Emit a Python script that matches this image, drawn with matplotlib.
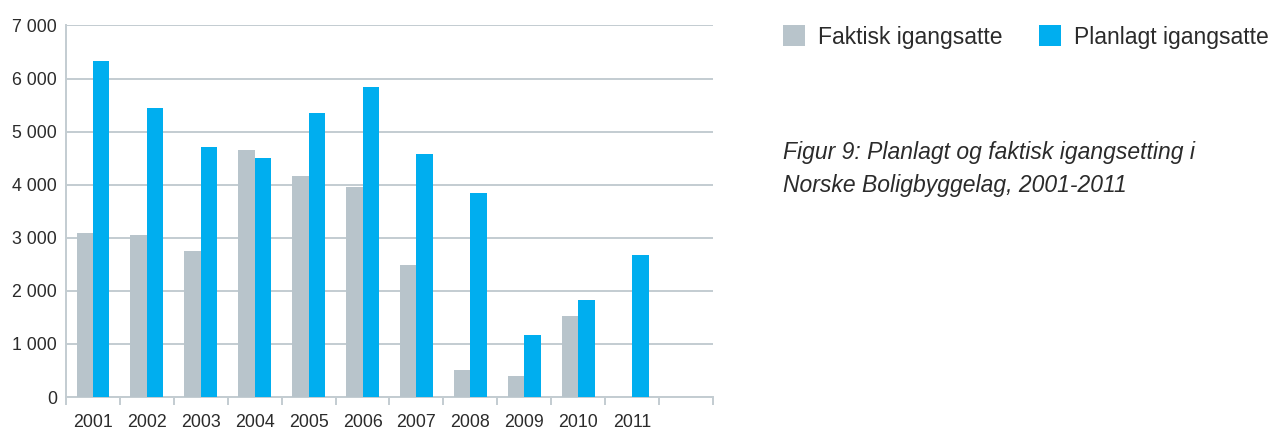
import numpy as np
import matplotlib.pyplot as plt
from matplotlib.patches import Patch
from matplotlib.ticker import FixedLocator, FuncFormatter

plt.rcParams['font.family'] = ['Liberation Sans', 'DejaVu Sans']

# verdier lest av figuren
years = ['2001', '2002', '2003', '2004', '2005', '2006', '2007', '2008', '2009', '2010', '2011']
faktisk = [3095, 3055, 2755, 4660, 4170, 3960, 2490, 515, 400, 1530, 0]
planlagt = [6335, 5450, 4715, 4505, 5355, 5845, 4585, 3850, 1175, 1835, 2680]

grey = '#b8c4cb'
blue = '#00aeef'
line_col = '#c3ccd1'
text_col = '#2b2b2b'

fig = plt.figure(figsize=(12.76, 4.30), dpi=100)
ax = fig.add_axes([66 / 1276, 33 / 430, 647 / 1276, 371.5 / 430])

x = np.arange(len(years))
w = 0.305
ax.bar(x - w / 2, faktisk, width=w, color=grey, zorder=3)
ax.bar(x + w / 2, planlagt, width=w, color=blue, zorder=3)

ax.set_xlim(-0.5, 11.5)
ax.set_ylim(0, 7000)

ax.set_yticks(np.arange(0, 7001, 1000))
ax.yaxis.set_major_formatter(FuncFormatter(lambda v, p: '{:,}'.format(int(v)).replace(',', ' ')))
ax.grid(axis='y', color=line_col, linewidth=1.4, zorder=0)

ax.set_xticks(x)
ax.set_xticklabels(years)
ax.xaxis.set_minor_locator(FixedLocator(np.arange(-0.5, 12, 1)))
ax.tick_params(axis='x', which='major', length=0, pad=12.5, labelsize=12.8, labelcolor=text_col)
ax.tick_params(axis='x', which='minor', length=6, width=1.4, color=line_col)
ax.tick_params(axis='y', length=0, pad=6.5, labelsize=12.8, labelcolor=text_col)

for s in ['top', 'right']:
    ax.spines[s].set_visible(False)
for s in ['left', 'bottom']:
    ax.spines[s].set_color(line_col)
    ax.spines[s].set_linewidth(1.4)

handles = [Patch(facecolor=grey, label='Faktisk igangsatte'),
           Patch(facecolor=blue, label='Planlagt igangsatte')]
fig.legend(handles=handles, loc='center left', bbox_to_anchor=(783 / 1276, 1 - 37 / 430),
           ncol=2, frameon=False, fontsize=16.5, handlelength=0.95, handleheight=1.0,
           handletextpad=0.57, columnspacing=1.6, borderpad=0, borderaxespad=0,
           labelcolor=text_col)

fig.text(783 / 1276, 1 - 153 / 430, 'Figur 9: Planlagt og faktisk igangsetting i',
         fontsize=16.5, style='italic', color=text_col, va='center', ha='left')
fig.text(783 / 1276, 1 - 186 / 430, 'Norske Boligbyggelag, 2001-2011',
         fontsize=16.5, style='italic', color=text_col, va='center', ha='left')

fig.savefig('out.png', dpi=100, facecolor='white')
